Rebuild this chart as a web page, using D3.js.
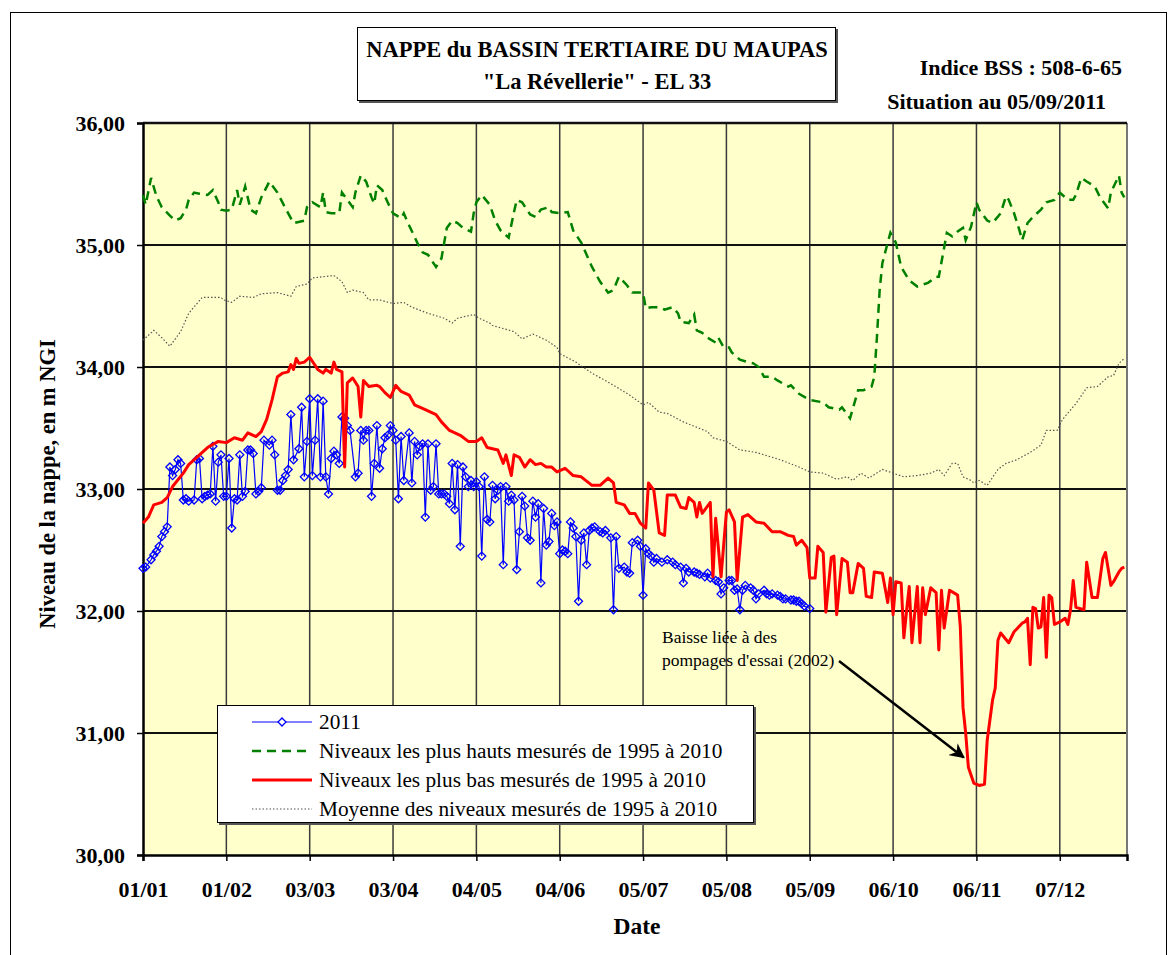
<!DOCTYPE html>
<html>
<head>
<meta charset="utf-8">
<script src="https://cdn.jsdelivr.net/npm/d3@7"></script>
<style>
  body { margin: 0; background: #fff; }
  svg text { font-family: "Liberation Serif", "Times New Roman", serif; }
</style>
</head>
<body>
<div id="chart"></div>
<script>
// day of year (axis drawn on a leap year so ticks fall every 31 days), level in m NGF
var serie2011 = [
  [0,32.35],[1,32.36],[3,32.42],[4,32.46],[5,32.49],[6,32.53],[7,32.61],[8,32.65],[9,32.69],[10,33.18],
  [11,33.11],[12,33.16],[13,33.24],[14,33.21],[15,32.91],[16,32.92],[17,32.90],[19,32.91],[20,33.24],[21,33.25],
  [22,32.92],[23,32.94],[24,32.95],[25,32.96],[26,33.35],[27,32.90],[28,33.22],[29,33.28],[30,32.94],[31,32.94],
  [32,33.25],[33,32.68],[34,32.92],[35,32.91],[36,33.28],[37,32.94],[38,32.98],[39,33.32],[40,33.32],[41,33.29],
  [42,32.96],[43,32.98],[44,33.01],[45,33.40],[47,33.36],[48,33.40],[49,33.28],[50,32.99],[51,32.99],[52,33.07],
  [53,33.11],[54,33.16],[55,33.61],[56,33.24],[58,33.33],[59,33.67],[60,33.10],[61,33.39],[62,33.74],[63,33.11],
  [64,33.40],[65,33.74],[66,33.10],[67,33.72],[68,33.10],[69,32.96],[70,33.25],[71,33.31],[72,33.28],[73,33.21],
  [74,33.59],[75,33.58],[76,33.52],[77,33.48],[79,33.10],[80,33.13],[81,33.48],[82,33.40],[83,33.48],[84,33.48],
  [85,32.94],[86,33.21],[87,33.52],[88,33.17],[89,33.33],[90,33.42],[91,33.44],[92,33.52],[93,33.48],[94,33.40],
  [95,32.92],[96,33.43],[97,33.07],[99,33.46],[100,33.05],[101,33.39],[102,33.28],[103,33.35],[104,33.37],[105,32.77],
  [106,33.37],[107,32.99],[108,33.02],[109,33.37],[110,32.96],[111,32.96],[112,32.96],[113,32.94],[114,32.88],[115,33.21],
  [116,32.83],[117,33.20],[118,32.53],[119,33.18],[120,33.10],[121,33.02],[122,33.07],[123,33.02],[124,33.06],[125,33.02],
  [126,32.45],[127,33.10],[128,32.75],[129,32.73],[130,33.03],[131,32.92],[132,32.99],[133,33.02],[134,32.38],[135,33.02],
  [136,32.90],[137,32.95],[138,32.91],[139,32.34],[140,32.65],[141,32.94],[142,32.86],[143,32.60],[144,32.58],[145,32.90],
  [146,32.77],[147,32.88],[148,32.23],[149,32.84],[150,32.54],[151,32.57],[152,32.80],[153,32.70],[154,32.73],[155,32.47],
  [156,32.50],[157,32.49],[158,32.47],[159,32.73],[160,32.68],[161,32.61],[162,32.08],[163,32.58],[164,32.64],[165,32.38],
  [166,32.66],[167,32.68],[168,32.69],[170,32.65],[171,32.64],[172,32.66],[174,32.60],[175,32.01],[176,32.61],[177,32.35],
  [179,32.36],[180,32.32],[181,32.31],[182,32.56],[184,32.58],[185,32.53],[186,32.13],[187,32.51],[188,32.47],[189,32.45],
  [190,32.40],[191,32.43],[193,32.40],[195,32.42],[197,32.40],[198,32.38],[200,32.36],[201,32.23],[202,32.35],[203,32.32],
  [205,32.32],[206,32.31],[207,32.30],[209,32.28],[210,32.31],[211,32.27],[213,32.25],[214,32.24],[215,32.14],[216,32.19],
  [218,32.25],[219,32.25],[220,32.17],[221,32.18],[222,32.01],[223,32.17],[224,32.21],[226,32.19],[227,32.17],[228,32.10],
  [229,32.14],[231,32.17],[232,32.14],[233,32.13],[234,32.14],[236,32.13],[237,32.12],[238,32.10],[239,32.10],[241,32.09],
  [242,32.09],[243,32.08],[244,32.08],[245,32.06],[246,32.04],[248,32.02]
];

var plusHauts = [
  [0,35.41],[1,35.33],[3,35.55],[5,35.40],[7,35.31],[10,35.24],[12,35.20],[14,35.22],[16,35.29],[17,35.37],
  [19,35.43],[21,35.42],[24,35.41],[26,35.45],[28,35.35],[29,35.29],[31,35.28],[33,35.29],[35,35.45],[36,35.33],
  [38,35.48],[40,35.29],[42,35.26],[44,35.39],[47,35.52],[50,35.43],[53,35.30],[56,35.18],[60,35.20],[61,35.31],
  [63,35.35],[66,35.31],[67,35.43],[68,35.27],[70,35.26],[73,35.26],[74,35.43],[76,35.37],[78,35.31],[79,35.43],
  [81,35.57],[83,35.52],[85,35.39],[86,35.34],[87,35.49],[89,35.45],[91,35.35],[93,35.26],[96,35.22],[97,35.26],
  [99,35.16],[102,35.02],[104,34.94],[106,34.92],[109,34.82],[111,34.89],[113,35.14],[115,35.20],[117,35.18],[119,35.14],
  [122,35.11],[123,35.26],[124,35.35],[126,35.41],[129,35.33],[131,35.20],[133,35.12],[136,35.06],[138,35.27],[139,35.37],
  [141,35.35],[144,35.25],[146,35.23],[148,35.29],[151,35.31],[152,35.27],[155,35.26],[158,35.27],[160,35.12],[163,35.02],
  [165,34.92],[167,34.82],[170,34.70],[173,34.61],[175,34.63],[177,34.74],[180,34.67],[182,34.61],[186,34.61],[187,34.48],
  [189,34.49],[192,34.49],[194,34.47],[197,34.49],[199,34.44],[200,34.37],[203,34.36],[205,34.43],[206,34.30],[208,34.28],
  [210,34.24],[213,34.20],[214,34.24],[216,34.16],[218,34.16],[219,34.12],[222,34.06],[225,34.04],[227,34.03],[229,34.00],
  [231,33.92],[234,33.92],[236,33.89],[240,33.84],[241,33.85],[244,33.78],[248,33.73],[253,33.71],[255,33.67],[259,33.65],
  [260,33.67],[263,33.58],[266,33.81],[268,33.81],[271,33.84],[272,33.92],[273,34.25],[274,34.63],[275,34.85],[277,35.02],
  [278,35.10],[280,35.02],[282,34.82],[285,34.71],[288,34.66],[292,34.69],[295,34.74],[296,34.74],[298,34.98],[299,35.10],
  [301,35.07],[303,35.11],[305,35.14],[306,35.04],[308,35.15],[310,35.35],[311,35.29],[314,35.20],[316,35.18],[319,35.26],
  [321,35.40],[322,35.37],[324,35.26],[326,35.12],[327,35.04],[329,35.18],[331,35.23],[334,35.29],[336,35.35],[339,35.37],
  [341,35.43],[344,35.37],[346,35.37],[347,35.41],[349,35.55],[351,35.52],[354,35.48],[356,35.39],[359,35.30],[360,35.43],
  [363,35.57],[364,35.43],[365,35.39]
];

var plusBas = [
  [0,32.72],[2,32.77],[4,32.87],[7,32.89],[9,32.93],[11,33.02],[15,33.13],[17,33.20],[20,33.26],[24,33.34],
  [28,33.39],[31,33.38],[34,33.42],[37,33.40],[39,33.46],[42,33.43],[44,33.47],[46,33.57],[48,33.73],[50,33.92],
  [52,33.95],[54,33.96],[55,34.02],[56,33.98],[57,34.07],[58,34.03],[60,34.04],[62,34.08],[65,33.98],[67,33.95],
  [68,33.98],[70,33.95],[71,34.04],[72,33.98],[74,33.96],[75,33.18],[76,33.87],[78,33.91],[80,33.84],[81,33.59],
  [82,33.89],[84,33.84],[87,33.85],[88,33.84],[90,33.79],[92,33.75],[94,33.85],[96,33.80],[99,33.77],[101,33.69],
  [105,33.65],[109,33.61],[111,33.55],[114,33.48],[118,33.44],[121,33.39],[124,33.39],[126,33.42],[128,33.34],[132,33.32],
  [134,33.21],[135,33.28],[137,33.11],[138,33.28],[140,33.26],[142,33.18],[144,33.24],[146,33.20],[148,33.21],[150,33.18],
  [152,33.18],[154,33.14],[157,33.17],[160,33.11],[163,33.10],[167,33.03],[170,33.03],[173,33.09],[175,33.05],[176,32.89],
  [179,32.87],[181,32.80],[183,32.80],[185,32.72],[187,32.68],[188,33.05],[190,32.99],[192,32.64],[194,32.62],[195,32.95],
  [198,32.95],[200,32.85],[202,32.84],[203,32.93],[205,32.89],[206,32.77],[207,32.89],[208,32.80],[211,32.89],[212,32.28],
  [213,32.76],[215,32.28],[217,32.81],[218,32.83],[220,32.73],[221,32.25],[223,32.77],[225,32.79],[228,32.73],[231,32.72],
  [234,32.65],[237,32.65],[240,32.62],[242,32.61],[243,32.54],[245,32.58],[247,32.52],[248,32.27],[250,32.27],[251,32.53],
  [253,32.48],[254,31.99],[256,32.44],[257,32.45],[258,31.97],[260,32.43],[262,32.40],[263,32.15],[264,32.15],[266,32.39],
  [268,32.35],[269,32.12],[271,32.11],[272,32.32],[275,32.31],[277,32.07],[278,32.27],[279,31.97],[280,32.24],[282,32.23],
  [283,31.78],[284,32.00],[285,32.20],[286,31.74],[288,32.20],[289,31.74],[290,32.19],[291,31.97],[293,32.19],[295,32.15],
  [296,31.68],[297,32.17],[298,31.86],[300,32.17],[303,32.13],[304,31.87],[305,31.21],[306,31.00],[307,30.72],[309,30.59],
  [311,30.57],[313,30.58],[314,30.94],[316,31.27],[317,31.37],[318,31.76],[319,31.82],[322,31.74],[324,31.83],[327,31.90],
  [328,31.91],[329,31.94],[330,31.56],[331,32.03],[332,32.02],[333,31.86],[334,31.87],[335,32.11],[336,31.62],[337,32.13],
  [338,32.11],[339,31.89],[341,31.91],[343,31.94],[344,31.89],[345,32.01],[346,32.25],[347,32.03],[350,32.01],[351,32.40],
  [353,32.11],[355,32.11],[357,32.43],[358,32.48],[360,32.21],[361,32.24],[363,32.32],[364,32.35],[365,32.36]
];

var moyenne = [
  [0,34.22],[4,34.30],[7,34.24],[10,34.17],[14,34.29],[17,34.44],[22,34.57],[29,34.57],[30,34.55],[33,34.53],
  [36,34.58],[41,34.57],[44,34.60],[50,34.61],[55,34.58],[57,34.66],[61,34.68],[63,34.73],[67,34.74],[71,34.75],
  [74,34.70],[76,34.61],[78,34.63],[82,34.61],[84,34.55],[88,34.55],[93,34.52],[97,34.53],[100,34.49],[106,34.44],
  [112,34.40],[115,34.36],[117,34.40],[123,34.43],[125,34.40],[129,34.36],[130,34.34],[138,34.29],[141,34.23],[145,34.27],
  [150,34.22],[154,34.16],[155,34.11],[161,34.04],[167,33.95],[175,33.85],[181,33.77],[186,33.69],[188,33.71],[192,33.63],
  [195,33.62],[201,33.55],[210,33.47],[212,33.42],[217,33.39],[222,33.32],[228,33.30],[237,33.24],[244,33.18],[248,33.14],
  [253,33.13],[258,33.08],[262,33.10],[264,33.07],[267,33.13],[270,33.09],[275,33.16],[279,33.13],[283,33.10],[288,33.11],
  [293,33.13],[296,33.16],[298,33.11],[301,33.21],[303,33.21],[305,33.10],[308,33.07],[309,33.05],[311,33.07],[314,33.03],
  [318,33.16],[321,33.21],[325,33.24],[330,33.30],[334,33.36],[336,33.48],[340,33.48],[342,33.57],[347,33.70],[351,33.83],
  [355,33.84],[359,33.92],[361,33.93],[363,34.03],[365,34.07]
];

var xTickDays = [0, 31, 62, 93, 124, 155, 186, 217, 248, 279, 310, 341];
var yTicks = [30, 31, 32, 33, 34, 35, 36];
var legendLabels = [
  "2011",
  "Niveaux les plus hauts mesurés de 1995 à 2010",
  "Niveaux les plus bas mesurés de 1995 à 2010",
  "Moyenne des niveaux mesurés de 1995 à 2010"
];

var width = 1171,
    height = 955;
var plot = {left: 143, right: 1127, top: 123, bottom: 855};
var origin = new Date(2012, 0, 1);
var toDate = function(d) { return d3.timeDay.offset(origin, d); };

var svg = d3.select("#chart").append("svg")
  .attr("width", width)
  .attr("height", height);

svg.append("rect").attr("width", width).attr("height", height).attr("fill", "#fff");
// outer frame of the chart
svg.append("rect")
  .attr("x", 10.5).attr("y", 12.5)
  .attr("width", 1156).attr("height", 960)
  .attr("fill", "none").attr("stroke", "#000").attr("stroke-width", 1);

var xScale = d3.scaleTime()
  .domain([origin, toDate(366)])
  .range([plot.left, plot.right]);
var yScale = d3.scaleLinear()
  .domain([30, 36])
  .range([plot.bottom, plot.top]);

var frFormat = d3.formatLocale({decimal: ",", thousands: " ", grouping: [3], currency: ["", " €"]}).format(".2f");

svg.append("rect")
  .attr("x", plot.left).attr("y", plot.top)
  .attr("width", plot.right - plot.left).attr("height", plot.bottom - plot.top)
  .attr("fill", "#FFFFCC");

// grid
svg.append("g").selectAll("line")
  .data(xTickDays.slice(1))
  .enter().append("line")
  .attr("x1", function(d) { return xScale(toDate(d)); })
  .attr("x2", function(d) { return xScale(toDate(d)); })
  .attr("y1", plot.top).attr("y2", plot.bottom)
  .attr("stroke", "#3a3a3a").attr("stroke-width", 1.5);
svg.append("g").selectAll("line")
  .data(yTicks.slice(1, -1))
  .enter().append("line")
  .attr("x1", plot.left).attr("x2", plot.right)
  .attr("y1", function(d) { return yScale(d); })
  .attr("y2", function(d) { return yScale(d); })
  .attr("stroke", "#111").attr("stroke-width", 1.8);

// plot border
svg.append("line").attr("x1", plot.right).attr("x2", plot.right)
  .attr("y1", plot.top).attr("y2", plot.bottom)
  .attr("stroke", "#777").attr("stroke-width", 2);
svg.append("line").attr("x1", plot.left).attr("x2", plot.right)
  .attr("y1", plot.top).attr("y2", plot.top)
  .attr("stroke", "#111").attr("stroke-width", 2.5);

// axes
var xAxis = d3.axisBottom(xScale)
  .tickValues(xTickDays.map(toDate))
  .tickFormat(d3.timeFormat("%d/%m"))
  .tickSize(6).tickPadding(20);
var yAxis = d3.axisLeft(yScale)
  .tickValues(yTicks)
  .tickFormat(frFormat)
  .tickSize(6).tickPadding(12);

var gx = svg.append("g")
  .attr("transform", "translate(0," + plot.bottom + ")")
  .call(xAxis);
var gy = svg.append("g")
  .attr("transform", "translate(" + plot.left + ",0)")
  .call(yAxis);

[gx, gy].forEach(function(g) {
  g.select(".domain").attr("stroke", "#000").attr("stroke-width", 2.5);
  g.selectAll(".tick line").attr("stroke", "#000").attr("stroke-width", 1.5);
  g.selectAll(".tick text")
    .attr("fill", "#000")
    .style("font-family", "'Liberation Serif', serif")
    .style("font-weight", "bold")
    .style("font-size", "22px");
});
gy.selectAll(".tick text").attr("dy", "0.36em");

svg.append("text")
  .attr("x", 637).attr("y", 934)
  .attr("text-anchor", "middle")
  .style("font-weight", "bold").style("font-size", "23.5px")
  .text("Date");

svg.append("text")
  .attr("transform", "translate(55,484) rotate(-90)")
  .attr("text-anchor", "middle")
  .style("font-weight", "bold").style("font-size", "22.5px")
  .text("Niveau de la nappe, en m NGI");

// series
var line = d3.line()
  .x(function(d) { return xScale(toDate(d[0])); })
  .y(function(d) { return yScale(d[1]); });

var series = svg.append("g");

series.append("path")
  .datum(serie2011)
  .attr("d", line)
  .attr("fill", "none").attr("stroke", "#0000FF").attr("stroke-width", 1.2);

var diamond = d3.symbol().type(d3.symbolSquare).size(32);
series.selectAll(".dot")
  .data(serie2011)
  .enter().append("path")
  .attr("class", "dot")
  .attr("d", diamond)
  .attr("transform", function(d) {
    return "translate(" + xScale(toDate(d[0])) + "," + yScale(d[1]) + ") rotate(45)";
  })
  .attr("fill", "none").attr("stroke", "#0000FF").attr("stroke-width", 1.3);

series.append("path")
  .datum(plusHauts)
  .attr("d", line)
  .attr("fill", "none").attr("stroke", "#008000").attr("stroke-width", 2.5)
  .attr("stroke-dasharray", "9,6");

series.append("path")
  .datum(plusBas)
  .attr("d", line)
  .attr("fill", "none").attr("stroke", "#FF0000").attr("stroke-width", 3)
  .attr("stroke-linejoin", "round");

series.append("path")
  .datum(moyenne)
  .attr("d", line)
  .attr("fill", "none").attr("stroke", "#555").attr("stroke-width", 1.2)
  .attr("stroke-dasharray", "1.5,2");

// title box
svg.append("rect")
  .attr("x", 359).attr("y", 29).attr("width", 479).attr("height", 74)
  .attr("fill", "#555");
svg.append("rect")
  .attr("x", 357.5).attr("y", 27.5).attr("width", 478).attr("height", 73)
  .attr("fill", "#fff").attr("stroke", "#000").attr("stroke-width", 1);
svg.append("text")
  .attr("x", 597).attr("y", 57).attr("text-anchor", "middle")
  .style("font-weight", "bold").style("font-size", "22.5px")
  .text("NAPPE du BASSIN TERTIAIRE DU MAUPAS");
svg.append("text")
  .attr("x", 597).attr("y", 89).attr("text-anchor", "middle")
  .style("font-weight", "bold").style("font-size", "22.5px")
  .text("\"La Révellerie\" - EL 33");

svg.append("text")
  .attr("x", 1122).attr("y", 75).attr("text-anchor", "end")
  .style("font-weight", "bold").style("font-size", "22px")
  .text("Indice BSS : 508-6-65");
svg.append("text")
  .attr("x", 1106).attr("y", 109).attr("text-anchor", "end")
  .style("font-weight", "bold").style("font-size", "22px")
  .text("Situation au 05/09/2011");

// annotation
svg.append("text")
  .attr("x", 662).attr("y", 643)
  .style("font-size", "17.5px")
  .text("Baisse liée à des");
svg.append("text")
  .attr("x", 662).attr("y", 666)
  .style("font-size", "17.5px")
  .text("pompages d'essai (2002)");

svg.append("defs").append("marker")
  .attr("id", "arrow")
  .attr("viewBox", "0 0 10 10")
  .attr("refX", 9).attr("refY", 5)
  .attr("markerWidth", 6).attr("markerHeight", 6)
  .attr("orient", "auto")
  .append("path")
  .attr("d", "M0,0 L10,5 L0,10 L3,5 Z")
  .attr("fill", "#000");
svg.append("line")
  .attr("x1", 839).attr("y1", 661)
  .attr("x2", xScale(toDate(306)) - 2).attr("y2", yScale(30.8))
  .attr("stroke", "#000").attr("stroke-width", 2.5)
  .attr("marker-end", "url(#arrow)");

// legend
var legend = svg.append("g").attr("transform", "translate(217,705)");
legend.append("rect")
  .attr("x", 2).attr("y", 2).attr("width", 537).attr("height", 118)
  .attr("fill", "#555");
legend.append("rect")
  .attr("x", 0.5).attr("y", 0.5).attr("width", 536).attr("height", 117)
  .attr("fill", "#fff").attr("stroke", "#000").attr("stroke-width", 1);

var legendStyles = [
  {stroke: "#0000FF", width: 1.2, dash: null},
  {stroke: "#008000", width: 2.5, dash: "9,6"},
  {stroke: "#FF0000", width: 3, dash: null},
  {stroke: "#555", width: 1.2, dash: "1.5,2"}
];

var items = legend.selectAll(".item")
  .data(legendLabels)
  .enter().append("g")
  .attr("class", "item")
  .attr("transform", function(d, i) { return "translate(0," + (17 + i * 29) + ")"; });

items.append("line")
  .attr("x1", 35).attr("x2", 95)
  .attr("stroke", function(d, i) { return legendStyles[i].stroke; })
  .attr("stroke-width", function(d, i) { return legendStyles[i].width; })
  .attr("stroke-dasharray", function(d, i) { return legendStyles[i].dash; });

items.filter(function(d, i) { return i === 0; })
  .append("path")
  .attr("d", diamond)
  .attr("transform", "translate(65,0) rotate(45)")
  .attr("fill", "#fff").attr("stroke", "#0000FF").attr("stroke-width", 1.3);

items.append("text")
  .attr("x", 102).attr("dy", "0.35em")
  .style("font-size", "21.3px")
  .text(function(d) { return d; });
</script>
</body>
</html>
